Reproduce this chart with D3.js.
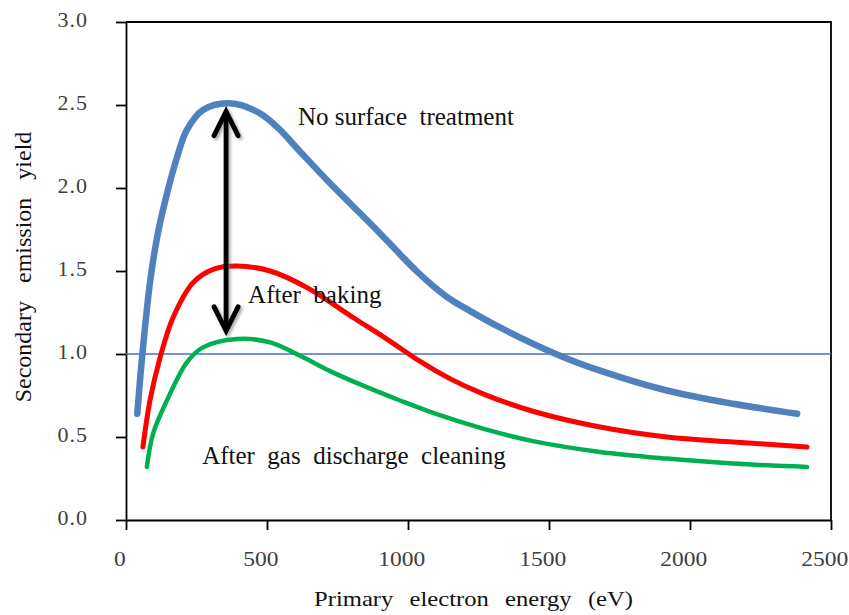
<!DOCTYPE html>
<html>
<head>
<meta charset="utf-8">
<script src="https://cdn.jsdelivr.net/npm/d3@7/dist/d3.min.js"></script>
<style>
  body { margin: 0; background: #fff; }
  text { font-family: "Liberation Serif", "Times New Roman", serif; }
</style>
</head>
<body>
<div id="chart"></div>
<script>
// values: primary energy (eV) -> secondary emission yield
var blueEnergy = [40, 57, 85, 110, 140, 180, 216, 273, 369, 475, 540, 617, 734, 876, 972, 1030, 1089, 1150, 1209, 1326, 1539, 1681, 1918, 2153, 2380];
var blueYield  = [0.64, 0.98, 1.43, 1.70, 1.93, 2.18, 2.35, 2.47, 2.51, 2.45, 2.36, 2.22, 2.01, 1.77, 1.60, 1.50, 1.41, 1.33, 1.27, 1.16, 0.99, 0.90, 0.78, 0.70, 0.64];

var redEnergy = [60, 85, 121, 167, 238, 309, 394, 511, 642, 805, 925, 1043, 1150, 1266, 1443, 1681, 1918, 2153, 2415];
var redYield  = [0.44, 0.72, 0.98, 1.22, 1.43, 1.51, 1.53, 1.50, 1.40, 1.22, 1.09, 0.955, 0.85, 0.76, 0.655, 0.56, 0.50, 0.47, 0.44];

var greenEnergy = [74, 96, 145, 216, 273, 394, 511, 628, 720, 805, 972, 1089, 1266, 1443, 1681, 1918, 2153, 2415];
var greenYield  = [0.32, 0.52, 0.72, 0.95, 1.04, 1.09, 1.07, 0.98, 0.90, 0.835, 0.72, 0.645, 0.55, 0.475, 0.41, 0.37, 0.34, 0.32];

var xTicks = [0, 500, 1000, 1500, 2000, 2500];
var yTicks = [0, 0.5, 1, 1.5, 2, 2.5, 3];

// labels drawn inside the plot (energy, yield of the text baseline start)
var labelText   = ["No surface  treatment", "After  baking", "After  gas  discharge  cleaning"];
var labelEnergy = [610, 433, 270];
var labelYield  = [2.38, 1.31, 0.34];

// double arrow between the blue and green peaks
var arrowEnergy = 355;
var arrowTop = 2.46, arrowBottom = 1.14;

// set the dimensions and margins of the graph
var margin = {top: 22, right: 18, bottom: 95, left: 126},
    width = 849 - margin.left - margin.right,
    height = 615 - margin.top - margin.bottom;

var svg = d3.select("#chart")
  .append("svg")
    .attr("width", width + margin.left + margin.right)
    .attr("height", height + margin.top + margin.bottom)
  .append("g")
    .attr("transform", "translate(" + margin.left + "," + margin.top + ")");

var x = d3.scaleLinear().domain([0, 2500]).range([0, width]);
var y = d3.scaleLinear().domain([0, 3]).range([height, 0]);

var sx = 1.12; // axis text in the source is a little wide

// X axis
var gx = svg.append("g")
  .attr("transform", "translate(0," + height + ")")
  .call(d3.axisBottom(x).tickValues(xTicks).tickSize(10).tickSizeOuter(0).tickFormat(d3.format("d")));
gx.selectAll(".tick text")
  .attr("y", 46).attr("dy", 0).attr("x", -6)
  .attr("text-anchor", "middle")
  .attr("transform", "scale(" + sx + ",1)")
  .style("font-size", "21px").attr("fill", "#404040");

// Y axis, labels right-aligned 38px left of the axis (width measured)
var gy = svg.append("g")
  .call(d3.axisLeft(y).tickValues(yTicks).tickSize(10).tickSizeOuter(0).tickFormat(d3.format(".1f")));
gy.selectAll(".tick text")
  .attr("dy", "0.2em")
  .attr("text-anchor", "start")
  .style("font-size", "22px")
  .style("letter-spacing", "1px")
  .attr("fill", "#404040")
  .attr("x", function() { return -38 - this.getComputedTextLength(); });

svg.selectAll(".domain, .tick line").attr("stroke", "#000").attr("stroke-width", 1.8);

// top and right frame
svg.append("path")
  .attr("d", "M" + x(0) + "," + y(3) + "H" + x(2500) + "V" + y(0))
  .attr("fill", "none").attr("stroke", "#000").attr("stroke-width", 1.8);

// yield = 1 reference line
svg.append("line")
  .attr("x1", x(0)).attr("x2", x(2500))
  .attr("y1", y(1)).attr("y2", y(1))
  .attr("stroke", "#4472c4").attr("stroke-width", 1.3);

// curves
var line = d3.line()
  .x(function(d) { return x(d[0]); })
  .y(function(d) { return y(d[1]); })
  .curve(d3.curveCatmullRom.alpha(0.5));

var series = [
  {e: greenEnergy, v: greenYield, color: "#00b050", w: 4.5},
  {e: redEnergy,   v: redYield,   color: "#ff0000", w: 5},
  {e: blueEnergy,  v: blueYield,  color: "#4f81bd", w: 6.5}
];
svg.selectAll(".curve")
  .data(series)
  .enter().append("path")
    .attr("class", "curve")
    .attr("d", function(s) { return line(d3.zip(s.e, s.v)); })
    .attr("fill", "none")
    .attr("stroke", function(s) { return s.color; })
    .attr("stroke-width", function(s) { return s.w; })
    .attr("stroke-linecap", "round");

// arrow with soft shadow
var defs = svg.append("defs");
defs.append("filter").attr("id", "shadow")
  .attr("x", "-50%").attr("y", "-10%").attr("width", "200%").attr("height", "120%")
  .append("feDropShadow")
    .attr("dx", 2).attr("dy", 2).attr("stdDeviation", 1.5)
    .attr("flood-color", "#777").attr("flood-opacity", 0.6);

var ax = x(arrowEnergy), at = y(arrowTop), ab = y(arrowBottom);
var arrow = svg.append("g").attr("filter", "url(#shadow)")
  .attr("fill", "none").attr("stroke", "#000").attr("stroke-width", 5);
arrow.append("line").attr("x1", ax).attr("x2", ax).attr("y1", at + 2).attr("y2", ab - 2);
arrow.append("path")
  .attr("d", "M" + (ax - 12) + "," + (at + 24) + "L" + ax + "," + at + "L" + (ax + 12) + "," + (at + 24))
  .attr("stroke-linecap", "round");
arrow.append("path")
  .attr("d", "M" + (ax - 12) + "," + (ab - 24) + "L" + ax + "," + ab + "L" + (ax + 12) + "," + (ab - 24))
  .attr("stroke-linecap", "round");

// in-plot labels
svg.selectAll(".label")
  .data(labelText)
  .enter().append("text")
    .attr("class", "label")
    .attr("x", function(d, i) { return x(labelEnergy[i]); })
    .attr("y", function(d, i) { return y(labelYield[i]); })
    .style("font-size", "25px")
    .style("white-space", "pre")
    .attr("fill", "#111")
    .text(function(d) { return d; });

// axis titles
svg.append("text")
  .attr("transform", "translate(" + (x(1250) - 5) + "," + (height + 86) + ") scale(" + sx + ",1)")
  .attr("text-anchor", "middle")
  .style("font-size", "22px")
  .style("word-spacing", "9px")
  .attr("fill", "#111")
  .text("Primary electron energy (eV)");

svg.append("text")
  .attr("transform", "translate(" + (31 - margin.left) + "," + (y(1.5) - 4) + ") rotate(-90)")
  .attr("text-anchor", "middle")
  .style("font-size", "24px")
  .style("word-spacing", "12px")
  .attr("fill", "#111")
  .text("Secondary emission yield");
</script>
</body>
</html>
